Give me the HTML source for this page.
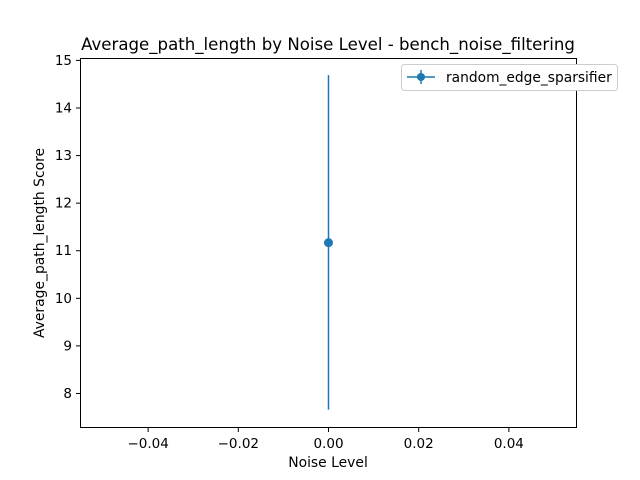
<!DOCTYPE html>
<html><head><meta charset="utf-8"><style>
body{margin:0;background:#fff;}
svg{display:block;font-family:"DejaVu Sans","Liberation Sans",sans-serif;}
</style></head><body>
<svg id="chart" width="640" height="480" viewBox="0 0 640 480">
<rect x="0" y="0" width="640" height="480" fill="#fff"/>
<text x="328" y="50" text-anchor="middle" font-size="16.6" fill="#000">Average_path_length by Noise Level - bench_noise_filtering</text>
<g id="yticks"></g><g id="xticks"></g><g id="marks"></g>
<rect x="80.5" y="58.5" width="496" height="369" fill="none" stroke="#000" stroke-width="1"/>
<text x="328" y="467" text-anchor="middle" font-size="13.9">Noise Level</text>
<text transform="translate(44,243) rotate(-90)" text-anchor="middle" font-size="13.9">Average_path_length Score</text>
<g>
<rect x="401.5" y="64.5" width="216" height="26" rx="3" fill="#fff" stroke="#ccc"/>
<line x1="407" y1="77" x2="435" y2="77" stroke="#1f77b4" stroke-width="1.5"/>
<line x1="421" y1="70" x2="421" y2="84" stroke="#1f77b4" stroke-width="1.5"/>
<circle cx="421" cy="77" r="4" fill="#1f77b4"/>
<text x="446" y="82" font-size="13.8">random_edge_sparsifier</text>
</g>
</svg>
<script>
const xValues=[0.0];
const yValues=[11.17];
const yLower=[7.66];
const yUpper=[14.69];
const xTicks=[-0.04,-0.02,0.00,0.02,0.04];
const xTickLabels=["\u22120.04","\u22120.02","0.00","0.02","0.04"];
const yTicks=[8,9,10,11,12,13,14,15];
const NS="http://www.w3.org/2000/svg";
function xs(v){return 80.5+(v+0.055)/0.11*496;}
function ys(v){return 427.5-(v-7.285)/(15.04-7.285)*369;}
function mk(t,a,p){const e=document.createElementNS(NS,t);for(const k in a)e.setAttribute(k,a[k]);p.appendChild(e);return e;}
const yg=document.getElementById('yticks'),xg=document.getElementById('xticks'),mg=document.getElementById('marks');
yTicks.forEach(v=>{const y=ys(v);
const l=mk('line',{x1:76,x2:80.5,y1:y,y2:y,stroke:'#000'},yg);


const t=mk('text',{x:72,y:y+4.5,'text-anchor':'end','font-size':13.5},yg);t.textContent=v;

});
xTicks.forEach((v,i)=>{const x=xs(v);
const l=mk('line',{x1:x,x2:x,y1:427.5,y2:432,stroke:'#000'},xg);


const t=mk('text',{x:x,y:448,'text-anchor':'middle','font-size':13.5},xg);t.textContent=xTickLabels[i];

});
xValues.forEach((v,i)=>{const x=xs(v);
const e=mk('line',{x1:x,x2:x,y1:ys(yLower[i]),y2:ys(yUpper[i]),stroke:'#1f77b4','stroke-width':1.5},mg);


const c=mk('circle',{cx:x,cy:ys(yValues[i]),r:4.5,fill:'#1f77b4'},mg);

});
</script>
</body></html>
